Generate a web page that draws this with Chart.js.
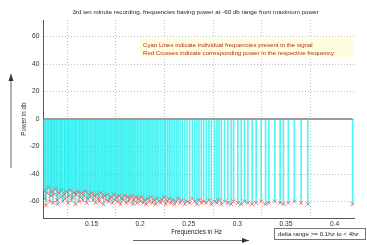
<!DOCTYPE html>
<html>
<head>
<meta charset="utf-8">
<script src="https://cdn.jsdelivr.net/npm/chart.js@4"></script>
<style>
  html, body { margin: 0; padding: 0; background: #fff; }
  canvas { display: block; }
</style>
</head>
<body>
<canvas id="spectrum" width="367" height="245"></canvas>
<script>
// frequencies (Hz)
const frequencies = [
  0.1008, 0.1021, 0.1030, 0.1046, 0.1055, 0.1069, 0.1082, 0.1090, 0.1104, 0.1117,
  0.1128, 0.1143, 0.1151, 0.1166, 0.1180, 0.1189, 0.1203, 0.1219, 0.1228, 0.1241,
  0.1257, 0.1266, 0.1280, 0.1294, 0.1305, 0.1321, 0.1334, 0.1343, 0.1359, 0.1372,
  0.1384, 0.1398, 0.1410, 0.1423, 0.1437, 0.1450, 0.1462, 0.1477, 0.1489, 0.1501,
  0.1516, 0.1530, 0.1541, 0.1555, 0.1569, 0.1580, 0.1596, 0.1608, 0.1622, 0.1635,
  0.1649, 0.1660, 0.1676, 0.1689, 0.1703, 0.1715, 0.1730, 0.1742, 0.1758, 0.1770,
  0.1786, 0.1799, 0.1812, 0.1826, 0.1840, 0.1855, 0.1868, 0.1883, 0.1897, 0.1911,
  0.1926, 0.1939, 0.1955, 0.1970, 0.1984, 0.2001, 0.2014, 0.2031, 0.2045, 0.2062,
  0.2078, 0.2093, 0.2110, 0.2126, 0.2143, 0.2160, 0.2176, 0.2193, 0.2211, 0.2228,
  0.2246, 0.2262, 0.2281, 0.2299, 0.2316, 0.2335, 0.2353, 0.2372, 0.2390, 0.2410,
  0.2434, 0.2458, 0.2481, 0.2509, 0.2537, 0.2561, 0.2584, 0.2605, 0.2629, 0.2653,
  0.2681, 0.2707, 0.2732, 0.2766, 0.2790, 0.2810, 0.2835, 0.2869, 0.2902, 0.2937,
  0.2961, 0.3005, 0.3040, 0.3074, 0.3108, 0.3153, 0.3194, 0.3245, 0.3290, 0.3323,
  0.3385, 0.3440, 0.3474, 0.3525, 0.3587, 0.3656, 0.3724, 0.4186
];
// power (db) at each frequency, the red crosses
const powers = [
  -52, -58, -63, -54, -50, -60, -56, -53, -61, -55,
  -51, -59, -62, -54, -57, -52, -60, -55, -58, -53,
  -61, -56, -52, -59, -57, -54, -62, -55, -53, -60,
  -57, -54, -59, -56, -53, -61, -58, -55, -57, -54,
  -59, -56, -61, -55, -58, -60, -54, -57, -62, -56,
  -59, -55, -60, -58, -57, -61, -55, -59, -57, -60,
  -56, -62, -58, -59, -56, -61, -57, -60, -58, -56,
  -62, -59, -57, -61, -58,
  -60, -57, -61, -59, -62, -58, -60, -57, -61, -59,
  -62, -58, -60, -61, -59, -57, -62, -60, -58, -61,
  -59, -62, -60, -58, -61, -59, -62, -60, -61, -58,
  -60, -62, -59, -61, -60,
  -61, -59, -62, -60, -61, -59, -62, -60, -61, -62,
  -60, -61, -62, -60, -61, -62, -61, -60, -62, -61,
  -60, -61, -62, -61, -60, -61, -62,
  -62
];
const yTicks = [60, 40, 20, 0, -20, -40, -60];
const xTicks = [0.15, 0.2, 0.25, 0.3, 0.35, 0.4];

const titleText = '3rd ten minute recording, frequencies having power at -60 db range from maximum power';
const noteLines = [
  'Cyan Lines indicate individual frequencies present in the signal',
  'Red Crosses indicate corresponding power in the respective frequency'
];
const deltaText = 'delta range >= 0.1hz to < 4hz';
const FONT = "'Liberation Sans', Arial, sans-serif";

function arrow(ctx, x1, y1, x2, y2) {
    ctx.beginPath();
    ctx.moveTo(x1, y1);
    ctx.lineTo(x2, y2);
    ctx.stroke();
    const a = Math.atan2(y2 - y1, x2 - x1);
    const c = Math.cos(a), s = Math.sin(a);
    ctx.beginPath();
    ctx.moveTo(x2, y2);
    ctx.lineTo(x2 - 7 * c + 2.5 * s, y2 - 7 * s - 2.5 * c);
    ctx.lineTo(x2 - 7 * c - 2.5 * s, y2 - 7 * s + 2.5 * c);
    ctx.closePath();
    ctx.fill();
}

const decorations = {
    id: 'decorations',
    afterDatasetsDraw(chart) {
        const ctx = chart.ctx;
        ctx.save();
        // note box
        ctx.fillStyle = '#fffde0';
        ctx.fillRect(140, 38, 213, 19);
        ctx.fillStyle = '#b0301f';
        ctx.font = '6.1px ' + FONT;
        ctx.textBaseline = 'middle';
        ctx.textAlign = 'left';
        ctx.fillText(noteLines[0], 143, 45.5);
        ctx.fillText(noteLines[1], 143, 53);
        ctx.restore();
    },
    afterDraw(chart) {
        const ctx = chart.ctx;
        const area = chart.chartArea;
        ctx.save();
        ctx.fillStyle = '#222';
        ctx.textBaseline = 'middle';
        ctx.textAlign = 'center';
        ctx.font = '6.2px ' + FONT;
        ctx.fillText(titleText, (area.left + area.right) / 2 - 3, 12.3);

        ctx.font = '6.3px ' + FONT;
        ctx.fillText('Frequencies in Hz', 196.5, 232.5);
        ctx.save();
        ctx.translate(24, 119);
        ctx.rotate(-Math.PI / 2);
        ctx.fillText('Power in db', 0, 0);
        ctx.restore();

        // arrows
        ctx.strokeStyle = '#666';
        ctx.fillStyle = '#333';
        ctx.lineWidth = 1;
        arrow(ctx, 11, 168, 11, 74);
        arrow(ctx, 133, 240.5, 249, 240.5);

        // delta range box
        ctx.fillStyle = '#fff';
        ctx.fillRect(274.5, 228.5, 91, 11);
        ctx.strokeStyle = '#777';
        ctx.strokeRect(274.5, 228.5, 91, 11);
        ctx.fillStyle = '#222';
        ctx.textAlign = 'left';
        ctx.font = '6.2px ' + FONT;
        ctx.fillText(deltaText, 278, 234.3);
        ctx.restore();
    }
};

const stems = frequencies.map((f, i) => ({x: f, y: [0, powers[i]]}));
const crosses = frequencies.map((f, i) => ({x: f, y: powers[i]}));
const zeroLine = [
    {x: frequencies[0], y: 0},
    {x: frequencies[frequencies.length - 1], y: 0}
];

new Chart(document.getElementById('spectrum'), {
    type: 'bar',
    data: {
        datasets: [{
            type: 'scatter',
            data: crosses,
            pointStyle: 'crossRot',
            pointRadius: 2.9,
            borderColor: 'rgba(250,70,70,0.7)',
            borderWidth: 1,
            order: 0
        }, {
            type: 'line',
            data: zeroLine,
            borderColor: '#9c9c9c',
            borderWidth: 2,
            pointRadius: 0,
            order: 1
        }, {
            type: 'bar',
            data: stems,
            backgroundColor: 'rgba(0,238,238,0.68)',
            borderWidth: 0,
            barThickness: 1,
            order: 2
        }]
    },
    options: {
        responsive: false,
        animation: false,
        devicePixelRatio: 1,
        layout: {padding: {left: 0, right: 13, top: 20, bottom: 0}},
        plugins: {
            legend: {display: false},
            tooltip: {enabled: false},
            title: {display: false}
        },
        scales: {
            x: {
                type: 'linear',
                min: 0.1,
                max: 0.42,
                offset: false,
                afterBuildTicks: (scale) => { scale.ticks = xTicks.map(v => ({value: v})); },
                afterFit: (scale) => { scale.height = 27; },
                ticks: {
                    color: '#333',
                    font: {family: FONT, size: 6.7},
                    padding: 2,
                    maxRotation: 0,
                    autoSkip: false,
                    callback: (v) => String(v)
                },
                grid: {color: '#c0c0c0', lineWidth: 1, drawTicks: false},
                border: {display: true, color: '#555', width: 1, dash: [1, 2]}
            },
            y: {
                min: -72,
                max: 72,
                afterBuildTicks: (scale) => { scale.ticks = yTicks.map(v => ({value: v})); },
                afterFit: (scale) => { scale.width = 43; },
                ticks: {
                    color: '#333',
                    font: {family: FONT, size: 6.7},
                    padding: 3.5,
                    autoSkip: false
                },
                grid: {color: '#c0c0c0', lineWidth: 1, drawTicks: false},
                border: {display: true, color: '#555', width: 1, dash: [1, 2]}
            }
        }
    },
    plugins: [decorations]
});
</script>
</body>
</html>
